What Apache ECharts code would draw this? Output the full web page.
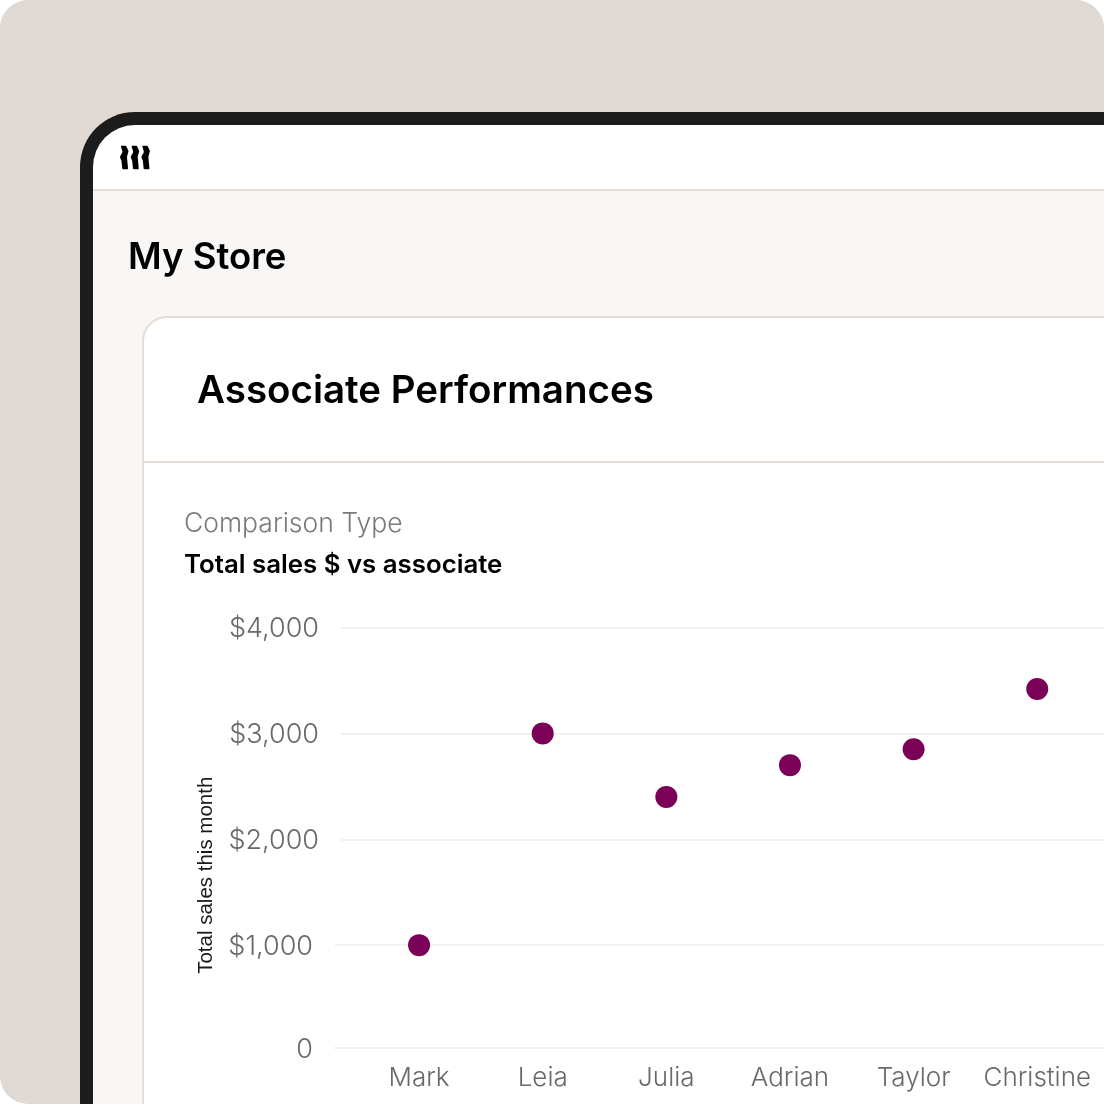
<!DOCTYPE html>
<html>
<head>
<meta charset="utf-8">
<style>
  html, body { margin: 0; padding: 0; background: #fff; }
  #chart { width: 1104px; height: 1104px; }
</style>
<script src="https://cdn.jsdelivr.net/npm/echarts@6/dist/echarts.min.js"></script>
</head>
<body>
<div id="chart"></div>
<script>
var associates = ['Mark', 'Leia', 'Julia', 'Adrian', 'Taylor', 'Christine'];
var totalSales = [1000, 3000, 2400, 2700, 2850, 3420];
var yTicks = [0, 1000, 2000, 3000, 4000];

var uiFont = 'Inter';
var axisColor = '#696969';
var lineColor = '#e5ddd7';
var gridColor = '#f3f0ed';

var myChart = echarts.init(document.getElementById('chart'));

function box(x, y, w, h, r, fill, stroke) {
    var el = { type: 'rect', z: -5, shape: { x: x, y: y, width: w, height: h, r: r }, style: { fill: fill }, silent: true };
    if (stroke) {
        el.style.stroke = stroke;
        el.style.lineWidth = 2;
    }
    return el;
}

function label(text, x, y, size, weight, color) {
    return {
        type: 'text', z: -4, x: x, y: y, silent: true,
        style: { text: text, fill: color, font: weight + ' ' + size + 'px ' + uiFont, textVerticalAlign: 'middle' }
    };
}

// one stroke of the logo, repeated three times
function wave(dx) {
    return {
        type: 'polygon', z: -4, x: dx, silent: true,
        shape: {
            smooth: 0.1,
            points: [[121, 146], [126, 146], [128.5, 151], [127, 157], [128, 169], [122.5, 169], [121.5, 161], [120, 157], [122.5, 152]]
        },
        style: { fill: '#000' }
    };
}

var frame = [
    box(0, 0, 1104, 1104, 28, '#e0d8d3'),
    box(80, 112, 1100, 1100, 55, '#1c1c1c'),
    box(93, 125, 1100, 1100, 42, '#ffffff'),
    box(93, 189, 1011, 915, 0, lineColor),
    box(93, 191, 1011, 913, 0, '#f8f7f5'),
    box(143, 317, 1100, 1000, 24, '#ffffff', lineColor),
    box(144, 461, 960, 2, 0, lineColor),
    wave(0),
    wave(10.7),
    wave(21.4),
    label('My Store', 128, 258, 36.5, 600, '#000'),
    label('Associate Performances', 197, 391, 38.5, 600, '#000'),
    label('Comparison Type', 184, 524, 26.5, 300, '#7a7a7a'),
    label('Total sales $ vs associate', 184, 565, 25.8, 600, '#000'),
    // upper gridlines start slightly further right than the lower ones
    { type: 'rect', z: 1, silent: true, shape: { x: 334, y: 620, width: 7, height: 225 }, style: { fill: '#fff' } }
];

var option = {
    animation: false,
    backgroundColor: 'transparent',
    graphic: { elements: frame },
    grid: { left: 335, right: 0, top: 627.5, height: 423.5, containLabel: false },
    xAxis: {
        type: 'value',
        min: -0.68,
        max: 5.54,
        offset: -3,
        splitLine: { show: false },
        axisTick: { show: false },
        axisLine: { show: true, onZero: false, lineStyle: { color: gridColor, width: 2 } },
        axisLabel: {
            customValues: associates.map(function (name, i) { return i; }),
            formatter: function (val) { return associates[val]; },
            color: axisColor,
            fontFamily: uiFont,
            fontWeight: 300,
            fontSize: 26,
            margin: 17
        }
    },
    yAxis: {
        type: 'value',
        min: yTicks[0],
        max: yTicks[yTicks.length - 1],
        interval: 1000,
        name: 'Total sales this month',
        nameLocation: 'middle',
        nameGap: 118,
        nameTextStyle: { color: '#1a1a1a', fontFamily: 'Liberation Sans', fontSize: 20.5, padding: [0, 72, 0, 0] },
        axisLine: { show: false },
        axisTick: { show: false },
        splitLine: { showMinLine: false, lineStyle: { color: gridColor, width: 2 } },
        axisLabel: {
            margin: 16,
            color: axisColor,
            fontFamily: uiFont,
            fontWeight: 300,
            fontSize: 27,
            formatter: function (val) {
                if (val === 0) return '{zero|0}';
                var text = '$' + val.toLocaleString('en-US');
                return val === 1000 ? '{narrow|' + text + '}' : '{wide|' + text + '}';
            },
            rich: {
                zero: { color: axisColor, fontFamily: uiFont, fontWeight: 300, fontSize: 27, padding: [0, 6, 3, 0] },
                narrow: { color: axisColor, fontFamily: uiFont, fontWeight: 300, fontSize: 27, padding: [3, 6, 0, 0] },
                wide: { color: axisColor, fontFamily: uiFont, fontWeight: 300, fontSize: 27, padding: [3, 0, 0, 0] }
            }
        }
    },
    series: [{
        type: 'scatter',
        symbolSize: 22,
        itemStyle: { color: '#7a0058', opacity: 1 },
        data: totalSales.map(function (val, i) { return [i, val]; })
    }]
};

myChart.setOption(option);
</script>
</body>
</html>
